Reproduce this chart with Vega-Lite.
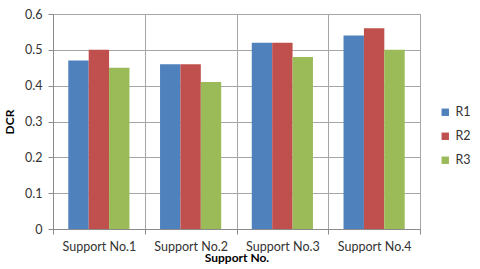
{
  "$schema": "https://vega.github.io/schema/vega-lite/v6.json",
  "autosize": {"type": "none"},
  "padding": {"left": 53, "top": 14, "right": 60, "bottom": 40},
  "width": 367,
  "height": 215,
  "background": "white",
  "config": {
    "font": "Lato",
    "view": {"stroke": "#9a9a9a", "strokeWidth": 1},
    "axis": {"labelFont": "Lato", "titleFont": "Lato", "labelColor": "#333333", "titleColor": "#000000", "domainColor": "#8a8a8a", "tickColor": "#8a8a8a", "gridColor": "#a6a6a6", "labelFontSize": 12.5, "titleFontSize": 12, "titleFontWeight": "bold"},
    "legend": {"labelFont": "Lato", "labelFontSize": 12.5, "labelColor": "#333333"}
  },
  "data": {
    "values": [
      {"support": "Support No.1", "series": "R1", "dcr": 0.47},
      {"support": "Support No.1", "series": "R2", "dcr": 0.50},
      {"support": "Support No.1", "series": "R3", "dcr": 0.45},
      {"support": "Support No.2", "series": "R1", "dcr": 0.46},
      {"support": "Support No.2", "series": "R2", "dcr": 0.46},
      {"support": "Support No.2", "series": "R3", "dcr": 0.41},
      {"support": "Support No.3", "series": "R1", "dcr": 0.52},
      {"support": "Support No.3", "series": "R2", "dcr": 0.52},
      {"support": "Support No.3", "series": "R3", "dcr": 0.48},
      {"support": "Support No.4", "series": "R1", "dcr": 0.54},
      {"support": "Support No.4", "series": "R2", "dcr": 0.56},
      {"support": "Support No.4", "series": "R3", "dcr": 0.50}
    ]
  },
  "mark": {"type": "bar"},
  "encoding": {
    "x": {
      "field": "support", "type": "nominal", "title": "Support No.",
      "scale": {"paddingInner": 0, "paddingOuter": 0},
      "axis": {"labelAngle": 0, "tickBand": "extent", "grid": true, "tickSize": 5, "labelPadding": 6, "titlePadding": 0, "domain": true}
    },
    "xOffset": {"field": "series", "type": "nominal", "scale": {"paddingInner": 0, "paddingOuter": 0.75}},
    "y": {
      "field": "dcr", "type": "quantitative", "title": "DCR",
      "scale": {"domain": [0, 0.6], "nice": false},
      "axis": {"values": [0, 0.1, 0.2, 0.3, 0.4, 0.5, 0.6], "format": ".1~f", "tickSize": 5, "labelPadding": 6, "titlePadding": 8, "domain": true, "grid": true}
    },
    "color": {
      "field": "series", "type": "nominal",
      "scale": {"domain": ["R1", "R2", "R3"], "range": ["#4F81BD", "#C0504D", "#9BBB59"]},
      "legend": {"title": null, "orient": "none", "legendX": 386, "legendY": 92, "symbolType": "square", "symbolSize": 55, "symbolStrokeWidth": 0, "rowPadding": 11, "labelOffset": 4}
    }
  }
}
